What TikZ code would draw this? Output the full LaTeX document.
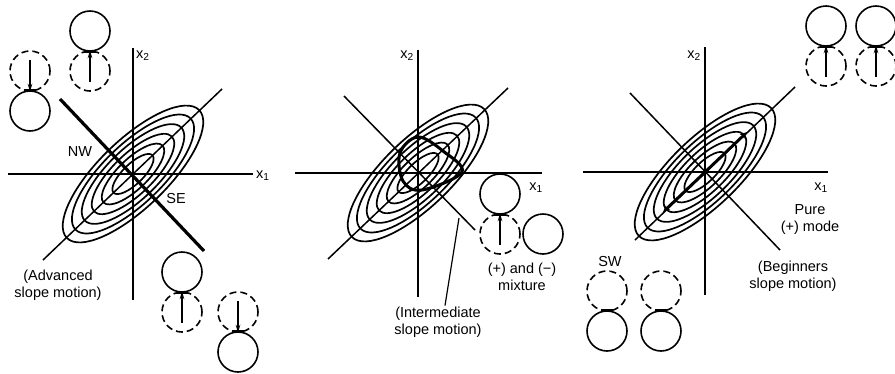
\documentclass[tikz,border=0pt]{standalone}
\usepackage{fontspec}
\setmainfont{Liberation Sans}
\usetikzlibrary{arrows.meta}
\begin{document}
\begin{tikzpicture}[x=1pt,y=-1pt,
  every node/.style={font=\fontsize{14.5}{17}\selectfont, inner sep=1pt},
  axis/.style={line width=1.5pt},
  thickline/.style={line width=3.2pt},
  ell/.style={line width=1.7pt},
  solidc/.style={circle, draw, line width=1.6pt, minimum size=40pt, inner sep=0pt},
  dashc/.style={circle, draw, line width=1.6pt, dash pattern=on 7pt off 4pt, minimum size=40pt, inner sep=0pt},
  arr/.style={-{Stealth[length=8pt,width=4.5pt]}, line width=1.4pt},
  bar/.style={line width=2.4pt},
  lbl/.style={align=center}
]
\useasboundingbox (0,0) rectangle (895,373);

% ---------------- Panel 1 ----------------
\coordinate (o1) at (133,174);
\coordinate (a1t) at (133,48);  \coordinate (a1b) at (133,300);
\coordinate (a1l) at (8,174);   \coordinate (a1r) at (253,174);
\coordinate (g1a) at (43,260);  \coordinate (g1b) at (222,89);
\coordinate (t1a) at (60,99);   \coordinate (t1b) at (204,251);
\draw[axis] (a1t) -- (a1b);
\draw[axis] (a1l) -- (a1r);
\draw[axis] (g1a) -- (g1b);
\begin{scope}[shift={(133,174)}, rotate=44]
  \foreach \a/\b in {92/34, 80/29.5, 67/25, 54/20, 41/15, 27/10}
    \draw[ell] (0,0) ellipse [x radius=\a pt, y radius=\b pt];
\end{scope}
\draw[thickline] (t1a) -- (t1b);
\node[anchor=west] (x2a) at (135,56) {x\textsubscript{2}};
\node[anchor=west] (x1a) at (255,176) {x\textsubscript{1}};
\node (nw) at (80,152) {NW};
\node (se) at (176,199) {SE};
\node[lbl] (adv) at (58,285) {(Advanced\\slope motion)};

\node[dashc]  (d1) at (30,71) {};
\node[solidc] (s1) at (30,111) {};
\draw[arr] ([yshift=11pt]d1.center) -- (d1.south);
\draw[bar] ([xshift=-6pt]s1.north) -- ([xshift=6pt]s1.north);

\node[solidc] (s2) at (90,31) {};
\node[dashc]  (d2) at (90,71) {};
\draw[arr] ([yshift=-11pt]d2.center) -- (d2.north);
\draw[bar] ([xshift=-6pt]s2.south) -- ([xshift=6pt]s2.south);

\node[solidc] (s3) at (182,272) {};
\node[dashc]  (d3) at (182,312) {};
\draw[arr] ([yshift=-11pt]d3.center) -- (d3.north);
\draw[bar] ([xshift=-6pt]s3.south) -- ([xshift=6pt]s3.south);

\node[dashc]  (d4) at (238,312) {};
\node[solidc] (s4) at (238,352) {};
\draw[arr] ([yshift=11pt]d4.center) -- (d4.south);
\draw[bar] ([xshift=-6pt]s4.north) -- ([xshift=6pt]s4.north);

% ---------------- Panel 2 ----------------
\coordinate (o2) at (418,173);
\coordinate (a2t) at (418,50);  \coordinate (a2b) at (418,297);
\coordinate (a2l) at (295,173); \coordinate (a2r) at (542,173);
\coordinate (g2a) at (328,259); \coordinate (g2b) at (508,88);
\coordinate (h2a) at (344,96);  \coordinate (h2b) at (475,230);
\draw[axis] (a2t) -- (a2b);
\draw[axis] (a2l) -- (a2r);
\draw[axis] (g2a) -- (g2b);
\draw[axis] (h2a) -- (h2b);
\begin{scope}[shift={(418,173)}, rotate=44]
  \foreach \a/\b in {92/34, 80/29.5, 67/25, 54/20, 41/15, 27/10}
    \draw[ell] (0,0) ellipse [x radius=\a pt, y radius=\b pt];
\end{scope}
\draw[line width=3pt] plot[smooth cycle, tension=0.6] coordinates {(418,137) (400,153) (403,181) (422,190) (462,172) (443,151)};
\node[anchor=east] (x2b) at (415,56) {x\textsubscript{2}};
\node (x1b) at (536,188) {x\textsubscript{1}};

\node[solidc] (s5) at (500,194) {};
\node[dashc]  (d5) at (500,234) {};
\node[solidc] (s6) at (543,234) {};
\draw[arr] ([yshift=-11pt]d5.center) -- (d5.north);
\draw[bar] ([xshift=-6pt]s5.south) -- ([xshift=6pt]s5.south);
\node[lbl] (mix) at (522,277) {(+) and (\textminus)\\mixture};
\node[lbl] (inter) at (438,322) {(Intermediate\\slope motion)};
\coordinate (lead) at (459,218);
\draw[line width=1.2pt] (inter.north) ++(7pt,0) -- (lead);

% ---------------- Panel 3 ----------------
\coordinate (o3) at (705,172);
\coordinate (a3t) at (705,47);  \coordinate (a3b) at (705,295);
\coordinate (a3l) at (583,172); \coordinate (a3r) at (828,172);
\coordinate (g3a) at (635,240); \coordinate (g3b) at (795,87);
\coordinate (h3a) at (630,93);  \coordinate (h3b) at (780,250);
\coordinate (p3a) at (663,212); \coordinate (p3b) at (747,132);
\draw[axis] (a3t) -- (a3b);
\draw[axis] (a3l) -- (a3r);
\draw[axis] (g3a) -- (g3b);
\draw[axis] (h3a) -- (h3b);
\begin{scope}[shift={(705,172)}, rotate=44]
  \foreach \a/\b in {92/34, 80/29.5, 67/25, 54/20, 41/15, 27/10}
    \draw[ell] (0,0) ellipse [x radius=\a pt, y radius=\b pt];
\end{scope}
\draw[line width=2.8pt, {Stealth[length=7pt,width=6pt]}-{Stealth[length=7pt,width=6pt]}] (p3a) -- (p3b);
\node[anchor=east] (x2c) at (702,56) {x\textsubscript{2}};
\node (x1c) at (821,188) {x\textsubscript{1}};
\node[lbl] (pure) at (810,220) {Pure\\(+) mode};
\node (sw) at (610,262) {SW};
\node[lbl] (beg) at (793,276) {(Beginners\\slope motion)};

\node[solidc] (s7) at (826,26) {};
\node[dashc]  (d7) at (826,66) {};
\draw[arr] ([yshift=-11pt]d7.center) -- (d7.north);
\draw[bar] ([xshift=-6pt]s7.south) -- ([xshift=6pt]s7.south);
\node[solidc] (s8) at (876,26) {};
\node[dashc]  (d8) at (876,66) {};
\draw[arr] ([yshift=-11pt]d8.center) -- (d8.north);
\draw[bar] ([xshift=-6pt]s8.south) -- ([xshift=6pt]s8.south);

\node[dashc]  (d9) at (607,291) {};
\node[solidc] (s9) at (607,331) {};
\draw[bar] ([xshift=-6pt]s9.north) -- ([xshift=6pt]s9.north);
\node[dashc]  (d10) at (661,291) {};
\node[solidc] (s10) at (661,331) {};
\draw[bar] ([xshift=-6pt]s10.north) -- ([xshift=6pt]s10.north);
\end{tikzpicture}
\end{document}
